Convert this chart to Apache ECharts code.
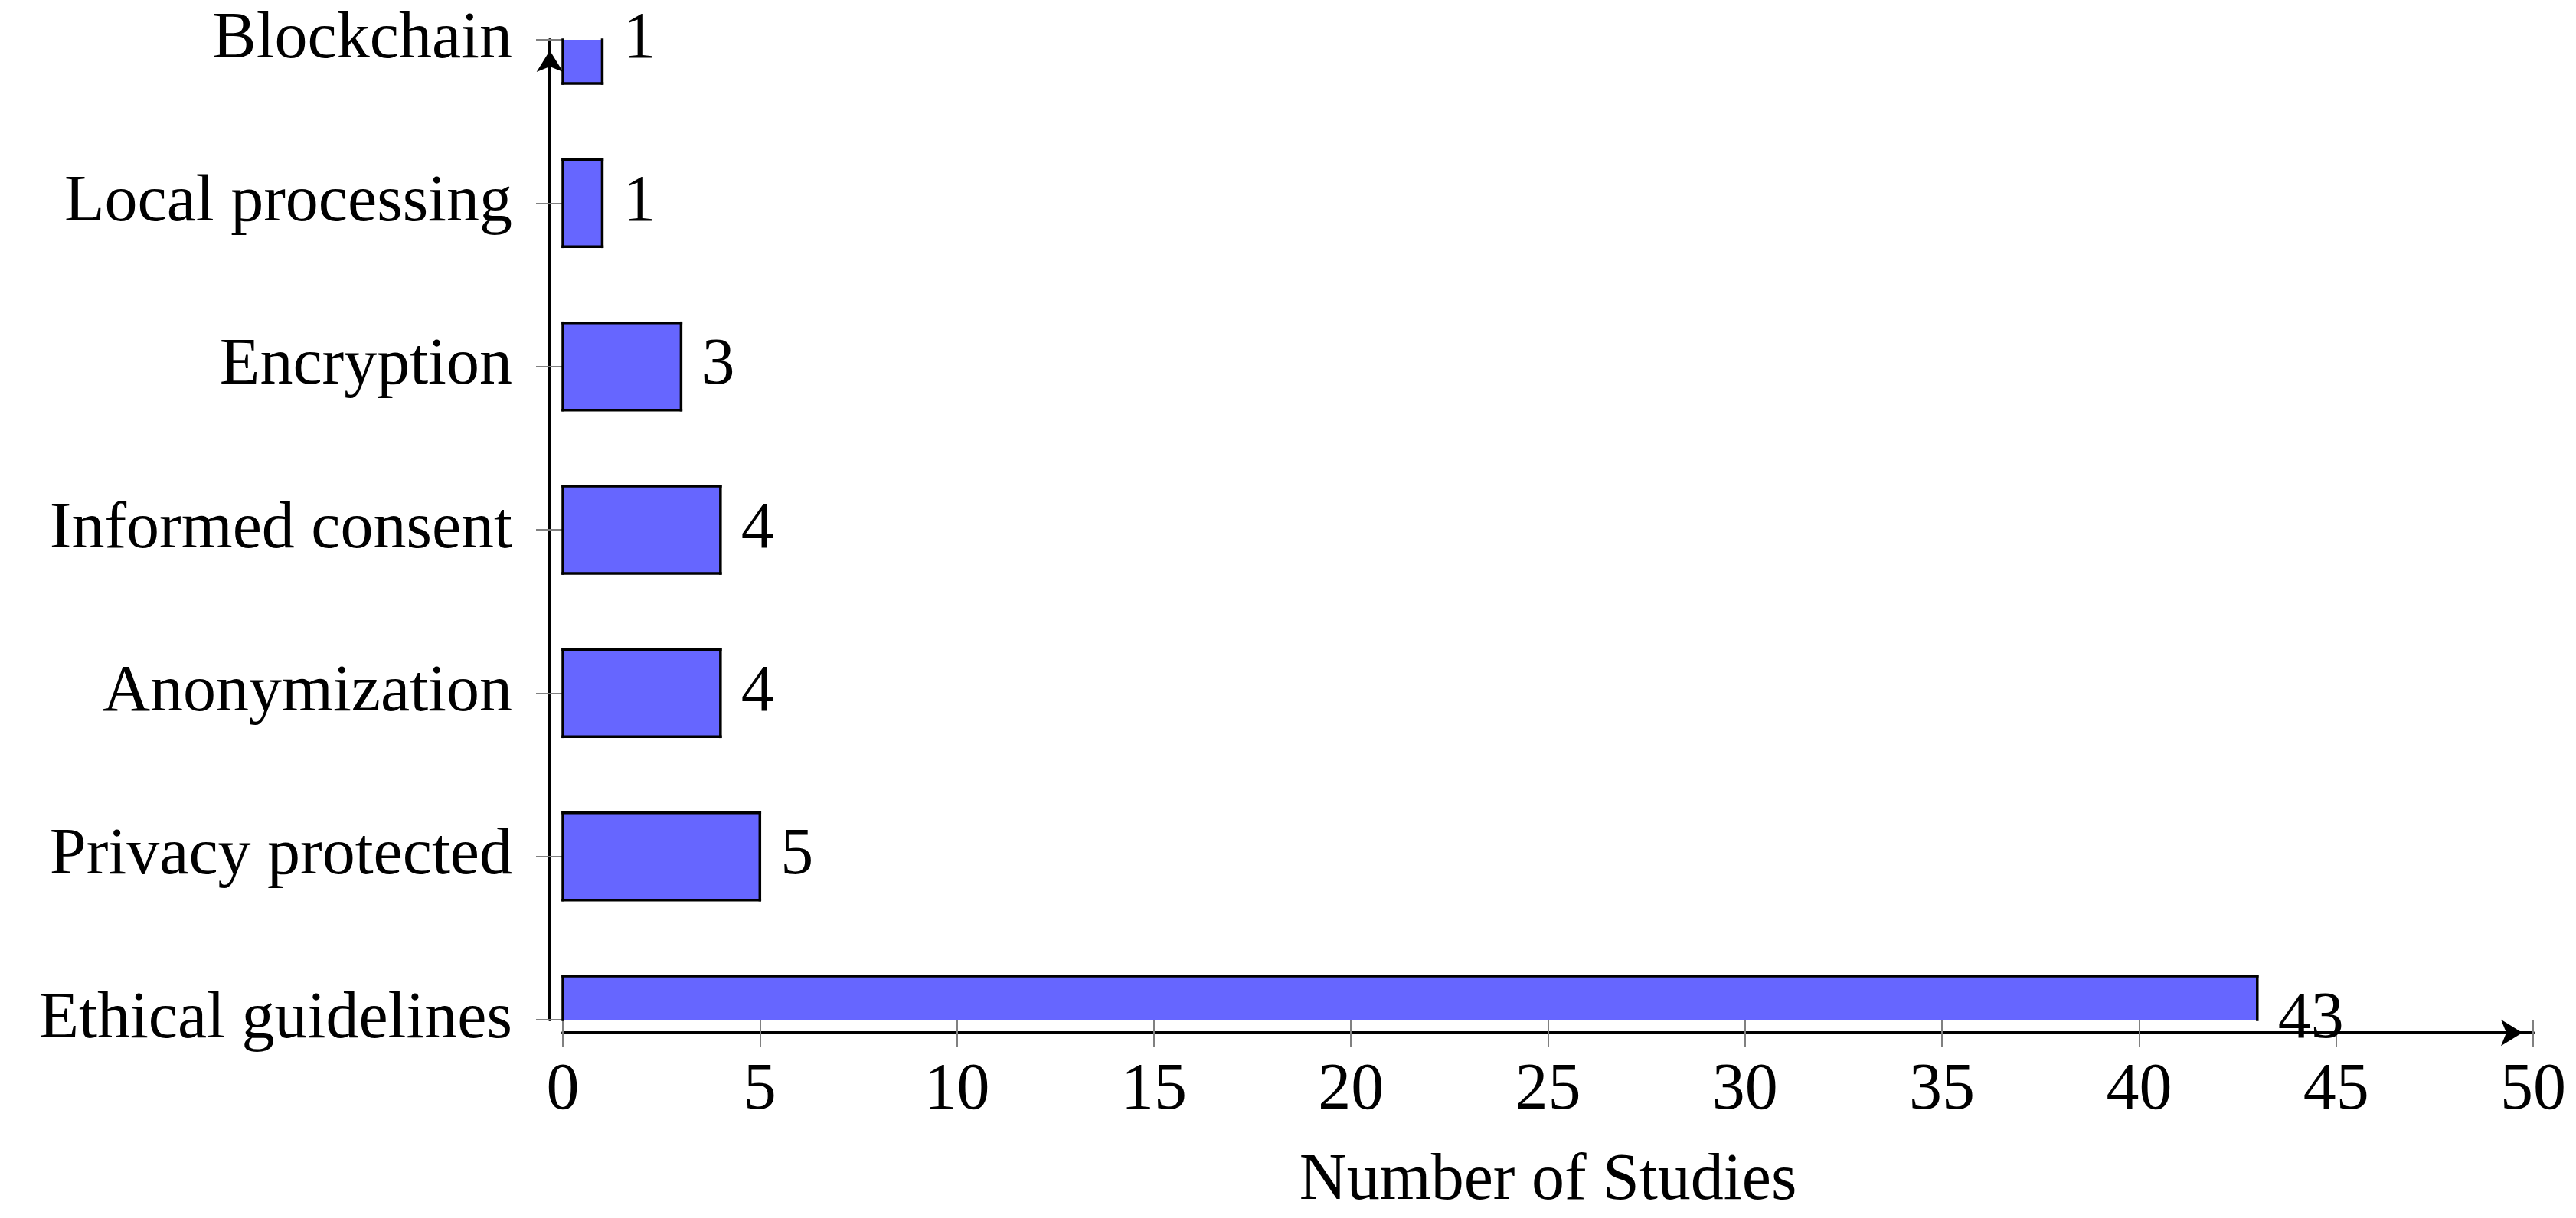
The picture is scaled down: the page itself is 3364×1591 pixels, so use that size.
<!DOCTYPE html>
<html>
<head>
<meta charset="utf-8">
<title>Number of Studies</title>
<script src="https://cdn.jsdelivr.net/npm/echarts@6/dist/echarts.min.js"></script>
<style>
  html, body { margin: 0; padding: 0; background: #fff; }
  #chart { width: 3364px; height: 1591px; }
</style>
</head>
<body>
<div id="chart"></div>
<script>
// bottom to top, as on the axis
const categories = ['Ethical guidelines', 'Privacy protected', 'Anonymization', 'Informed consent', 'Encryption', 'Local processing', 'Blockchain']
const studies = [43, 5, 4, 4, 3, 1, 1]
const xTicks = [0, 5, 10, 15, 20, 25, 30, 35, 40, 45, 50]

const font = "'Liberation Serif', 'Times New Roman', serif"
const fontSize = 86
const barColor = '#6666ff'
const barHeight = 114
const tickColor = '#808080'

let chart = echarts.init(document.getElementById('chart'))

let points = []
for (let i = 0; i < categories.length; i++) {
  points.push([studies[i], i])
}

// bars are clipped to the plot area without drawing a border on the cut edge
function renderBar (params, api) {
  let cs = params.coordSys
  let end = api.coord([api.value(0), api.value(1)])
  let start = api.coord([0, api.value(1)])
  let top = end[1] - barHeight / 2
  let bottom = end[1] + barHeight / 2
  let ct = Math.max(top, cs.y)
  let cb = Math.min(bottom, cs.y + cs.height)
  let x0 = start[0]
  let x1 = end[0]
  let edge = function (a, b) {
    return {
      type: 'line',
      shape: { x1: a[0], y1: a[1], x2: b[0], y2: b[1] },
      style: { stroke: '#000', lineWidth: 3.5, lineCap: 'square' }
    }
  }
  let children = [
    { type: 'rect', shape: { x: x0, y: ct, width: x1 - x0, height: cb - ct }, style: { fill: barColor } },
    edge([x0, ct], [x0, cb]),
    edge([x1, ct], [x1, cb])
  ]
  if (top >= cs.y) children.push(edge([x0, top], [x1, top]))
  if (bottom <= cs.y + cs.height) children.push(edge([x0, bottom], [x1, bottom]))
  return { type: 'group', children: children }
}

chart.setOption({
  animation: false,
  backgroundColor: '#fff',
  grid: { left: 735, right: 56, top: 52, bottom: 259 },
  xAxis: [
    {
      type: 'value',
      position: 'bottom',
      min: xTicks[0],
      max: xTicks[xTicks.length - 1],
      interval: xTicks[1] - xTicks[0],
      axisLine: { show: false, onZero: false },
      axisTick: { show: true, length: 35, lineStyle: { color: tickColor, width: 2 } },
      axisLabel: { margin: 50, color: '#000', fontFamily: font, fontSize: fontSize },
      splitLine: { show: false },
      name: 'Number of Studies',
      nameLocation: 'middle',
      nameGap: 168,
      nameTextStyle: { color: '#000', fontFamily: font, fontSize: fontSize }
    },
    {
      type: 'value',
      position: 'bottom',
      offset: 17,
      min: xTicks[0],
      max: xTicks[xTicks.length - 1],
      axisLine: {
        show: true, onZero: false,
        symbol: ['none', 'arrow'], symbolSize: [26, 28], symbolOffset: [0, -14],
        lineStyle: { color: '#000', width: 4 }
      },
      axisTick: { show: false },
      axisLabel: { show: false },
      splitLine: { show: false }
    }
  ],
  yAxis: [
    {
      type: 'category',
      position: 'left',
      data: categories,
      boundaryGap: false,
      axisLine: { show: false, onZero: false },
      axisTick: { show: true, alignWithLabel: true, length: 35, lineStyle: { color: tickColor, width: 2 } },
      axisLabel: { margin: 66, color: '#000', fontFamily: font, fontSize: fontSize },
      splitLine: { show: false }
    },
    {
      type: 'category',
      position: 'left',
      offset: 17,
      data: categories,
      boundaryGap: false,
      axisLine: {
        show: true, onZero: false,
        symbol: ['none', 'arrow'], symbolSize: [26, 28], symbolOffset: [0, -14],
        lineStyle: { color: '#000', width: 4 }
      },
      axisTick: { show: false },
      axisLabel: { show: false },
      splitLine: { show: false }
    }
  ],
  series: [
    {
      name: 'Studies',
      type: 'custom',
      xAxisIndex: 0,
      yAxisIndex: 0,
      renderItem: renderBar,
      encode: { x: 0, y: 1 },
      data: points,
      z: 3
    },
    {
      name: 'Value labels',
      type: 'scatter',
      xAxisIndex: 0,
      yAxisIndex: 0,
      clip: false,
      symbolSize: 0,
      itemStyle: { color: '#000', opacity: 1 },
      label: {
        show: true,
        position: 'right',
        distance: 27,
        color: '#000',
        fontFamily: font,
        fontSize: fontSize,
        formatter: function (p) { return p.value[0] }
      },
      labelLayout: { hideOverlap: false },
      data: points,
      z: 4
    }
  ]
})
</script>
</body>
</html>
